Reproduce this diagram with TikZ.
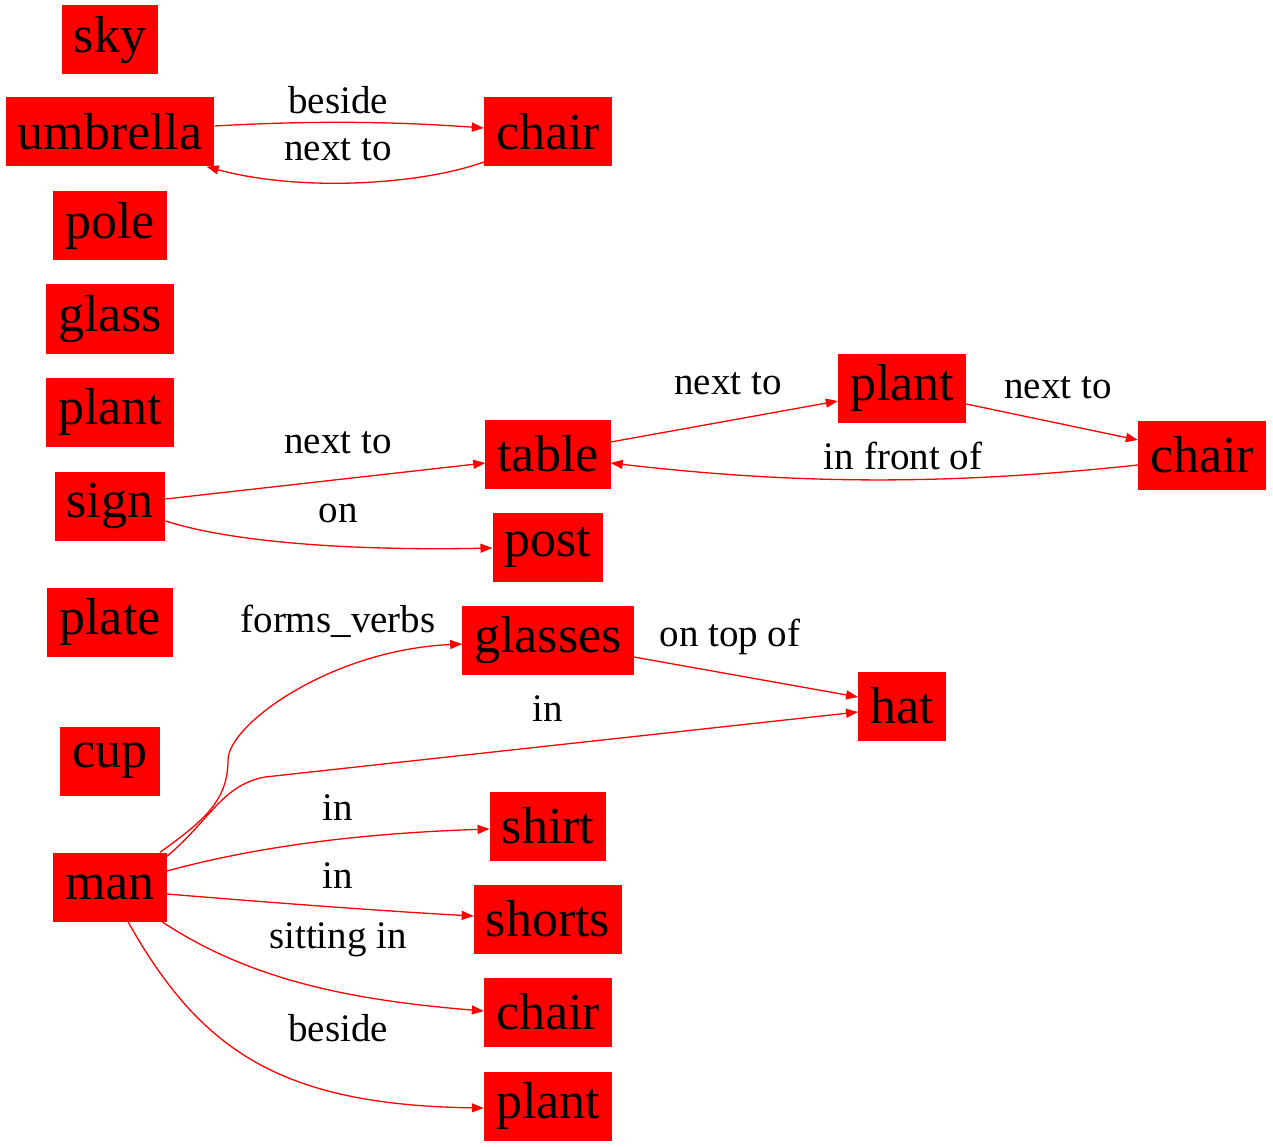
\documentclass[tikz,border=0pt]{standalone}
\usepackage{fontspec}
\setmainfont{Liberation Serif}
\usetikzlibrary{arrows.meta}
\tikzset{
  obj/.style={fill=red, minimum height=69pt, inner xsep=12pt, inner ysep=0pt,
    font=\fontsize{52}{60}\selectfont},
  rel/.style={font=\fontsize{39}{46}\selectfont, inner sep=0pt},
  edge/.style={draw=red, line width=1.3pt, -{Triangle[length=12pt,width=9pt]}}
}
\begin{document}
\begin{tikzpicture}[x=1pt, y=-1pt]
  \useasboundingbox (0,0) rectangle (1273,1147);
  % left column
  \node [obj] (sky) at (110,40) {sky};
  \node [obj] (umbrella) at (110,132) {umbrella};
  \node [obj] (pole) at (110,226) {pole};
  \node [obj] (glass) at (110,319) {glass};
  \node [obj] (plantA) at (110,412) {plant};
  \node [obj] (sign) at (110,506) {sign};
  \node [obj] (plate) at (110,622) {plate};
  \node [obj] (cup) at (110,761) {cup};
  \node [obj] (man) at (110,887) {man};
  % middle column
  \node [obj] (chairA) at (548,132) {chair};
  \node [obj] (table) at (548,454) {table};
  \node [obj] (post) at (548,547) {post};
  \node [obj] (glasses) at (548,640) {glasses};
  \node [obj] (shirt) at (548,826) {shirt};
  \node [obj] (shorts) at (548,919) {shorts};
  \node [obj] (chairC) at (548,1012) {chair};
  \node [obj] (plantC) at (548,1106) {plant};
  % right side
  \node [obj] (plantB) at (902,388) {plant};
  \node [obj] (chairB) at (1202,455) {chair};
  \node [obj] (hat) at (902,706) {hat};

  % relations
  \draw [edge] ([yshift=6pt]umbrella.east) .. controls (320,120) and (400,122) .. ([yshift=4pt]chairA.west);
  \draw [edge] ([yshift=-30pt]chairA.west) .. controls (420,185) and (300,192) .. ([xshift=-8pt]umbrella.south east);
  \draw [edge] ([yshift=7pt]sign.east) -- ([yshift=-9pt]table.west);
  \draw [edge] ([yshift=-15pt]sign.east) .. controls (250,548) and (400,550) .. ([yshift=-1pt]post.west);
  \draw [edge] ([yshift=12pt]table.east) -- ([yshift=-13pt]plantB.west);
  \draw [edge] ([yshift=-16pt]plantB.east) -- ([yshift=15pt]chairB.west);
  \draw [edge] ([yshift=-10pt]chairB.west) .. controls (950,485) and (800,485) .. ([yshift=-9pt]table.east);
  \draw [edge] ([xshift=-7pt]man.north east) .. controls (205,820) and (228,800) .. (228,760)
    .. controls (228,725) and (330,650) .. ([yshift=-4pt]glasses.west);
  \draw [edge] ([yshift=-4pt]man.north east) .. controls (210,820) and (222,785) .. (265,777)
    -- ([yshift=-6pt]hat.west);
  \draw [edge] ([yshift=-17pt]glasses.east) -- ([yshift=9pt]hat.west);
  \draw [edge] ([yshift=16pt]man.east) .. controls (280,840) and (400,832) .. ([yshift=-3pt]shirt.west);
  \draw [edge] ([yshift=-7pt]man.east) .. controls (300,905) and (400,912) .. ([yshift=3pt]shorts.west);
  \draw [edge] ([xshift=-5pt]man.south east) .. controls (250,980) and (350,1000) .. ([yshift=1pt]chairC.west);
  \draw [edge] ([xshift=18pt]man.south) .. controls (200,1050) and (280,1105) .. ([yshift=-2pt]plantC.west);

  % relation labels
  \node [rel] (lbeside) at (338,100) {beside};
  \node [rel] (lnexttoA) at (338,150) {next to};
  \node [rel] (lnexttoB) at (338,443) {next to};
  \node [rel] (lon) at (338,513) {on};
  \node [rel] (lnexttoC) at (728,384) {next to};
  \node [rel] (lnexttoD) at (1058,388) {next to};
  \node [rel] (lfront) at (903,456) {in front of};
  \node [rel] (lforms) at (338,621) {forms\_verbs};
  \node [rel] (ltop) at (730,637) {on top of};
  \node [rel] (linA) at (548,709) {in};
  \node [rel] (linB) at (338,808) {in};
  \node [rel] (linC) at (338,876) {in};
  \node [rel] (lsitting) at (338,940) {sitting in};
  \node [rel] (lbesideB) at (338,1028) {beside};
\end{tikzpicture}
\end{document}
